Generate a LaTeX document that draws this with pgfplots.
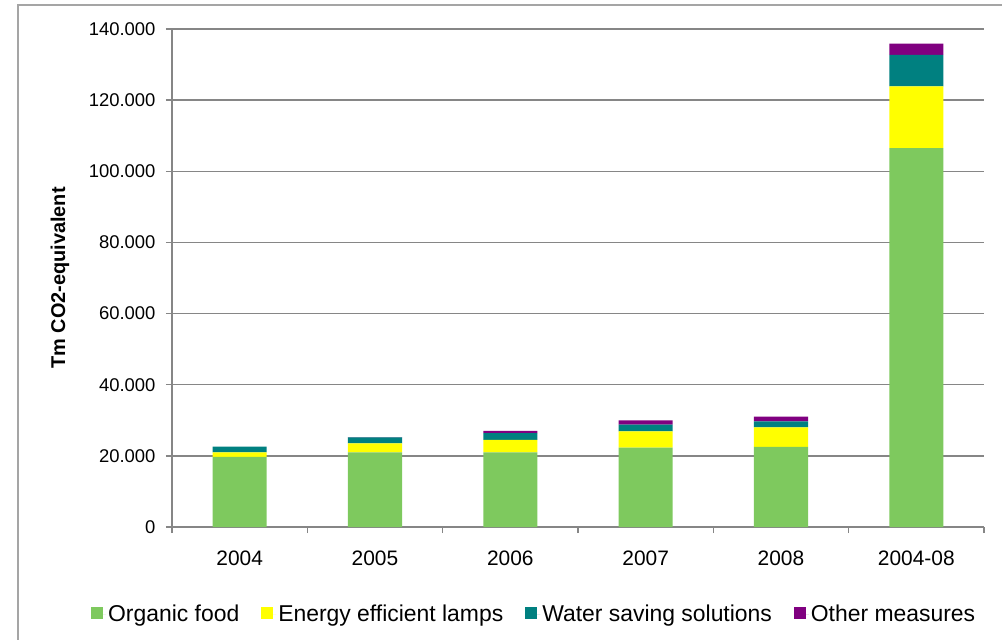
\documentclass[border=0pt]{standalone}
\usepackage{pgfplots}
\pgfplotsset{compat=1.18}
\usepackage{fontspec}
\setmainfont{Liberation Sans}
\definecolor{cgreen}{RGB}{126,201,94}
\definecolor{cyellow}{RGB}{255,255,0}
\definecolor{cteal}{RGB}{0,128,128}
\definecolor{cpurple}{RGB}{128,0,128}
\definecolor{axgray}{RGB}{134,134,134}
\definecolor{framegray}{RGB}{165,165,165}
\begin{document}
\begin{tikzpicture}
\useasboundingbox (-172bp,-113bp) rectangle (830bp,527bp);
\begin{axis}[
 scale only axis, width=812bp, height=498bp,
 ybar stacked, bar width=0.4,
 xmin=-0.5, xmax=5.5, ymin=0, ymax=140000,
 axis x line*=bottom, axis y line*=left,
 axis line style={draw=axgray, line width=1.3bp},
 xtick={-0.5,0.5,1.5,2.5,3.5,4.5,5.5}, xticklabels={},
 extra x ticks={0,1,2,3,4,5},
 extra x tick labels={2004,2005,2006,2007,2008,2004-08},
 extra x tick style={grid=none, tick style={draw=none}},
 ytick={0,20000,40000,60000,80000,100000,120000,140000},
 yticklabels={0,20.000,40.000,60.000,80.000,100.000,120.000,140.000},
 ymajorgrids, grid style={draw=axgray, line width=1.3bp},
 tick style={draw=axgray, line width=1.3bp},
 tick align=outside, major tick length=6bp,
 scaled y ticks=false,
 xticklabel style={font=\fontsize{21}{25}\selectfont, yshift=-14bp},
 yticklabel style={font=\fontsize{18.5}{22}\selectfont, xshift=-7bp},
 ylabel={Tm CO2-equivalent},
 ylabel style={at={(axis description cs:-0.138,0.5)}, anchor=center, font=\bfseries\fontsize{20}{24}\selectfont},
 legend columns=4,
 legend style={draw=none, fill=none, at={(axis description cs:0.446,-0.175)}, anchor=center,
   font=\fontsize{23}{27}\selectfont,
   /tikz/every even column/.append style={column sep=20bp}},
 legend image code/.code={\fill[#1] (0bp,-5bp) rectangle (12bp,7bp); \path (0bp,0bp) -- (15bp,0bp);},
]
\addplot[fill=cgreen, draw=none] coordinates {(0,19700) (1,21000) (2,21000) (3,22300) (4,22500) (5,106500)};
\addplot[fill=cyellow, draw=none] coordinates {(0,1300) (1,2500) (2,3500) (3,4600) (4,5500) (5,17400)};
\addplot[fill=cteal, draw=none] coordinates {(0,1600) (1,1700) (2,1900) (3,1900) (4,1700) (5,8800)};
\addplot[fill=cpurple, draw=none] coordinates {(0,0) (1,100) (2,600) (3,1200) (4,1300) (5,3200)};
\legend{Organic food, Energy efficient lamps, Water saving solutions, Other measures}
\end{axis}
\draw[framegray, line width=1.5bp] (-154bp,-113bp) -- (-154bp,522bp) -- (830bp,522bp);
\end{tikzpicture}
\end{document}
